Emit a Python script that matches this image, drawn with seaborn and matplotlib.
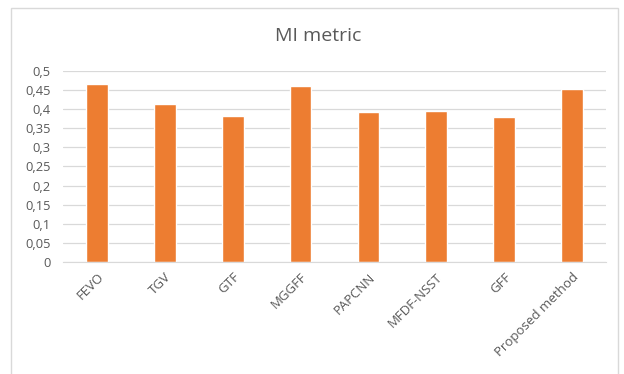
import matplotlib
matplotlib.use("Agg")
import matplotlib.pyplot as plt
import seaborn as sns
import pandas as pd
from matplotlib.patches import Rectangle
from matplotlib.ticker import FuncFormatter

methods = ["FEVO", "TGV", "GTF", "MGGFF", "PAPCNN", "MFDF-NSST", "GFF", "Proposed method"]
mi_values = [0.465, 0.412, 0.381, 0.459, 0.392, 0.395, 0.378, 0.451]
y_ticks = [0, 0.05, 0.1, 0.15, 0.2, 0.25, 0.3, 0.35, 0.4, 0.45, 0.5]

df = pd.DataFrame({"method": methods, "MI": mi_values})

sns.set_style("white")
plt.rcParams["font.family"] = ["Open Sans", "DejaVu Sans"]
text_col = "#595959"

fig = plt.figure(figsize=(6.24, 3.74), dpi=100)
ax = fig.add_axes([0.101, 0.299, 0.870, 0.512])

sns.barplot(data=df, x="method", y="MI", color="#ED7D31", saturation=1, width=0.32, ax=ax)

ax.set_ylim(0, 0.5)
ax.set_yticks(y_ticks)
ax.yaxis.set_major_formatter(FuncFormatter(lambda v, p: ("%g" % v).replace(".", ",")))
ax.grid(axis="y", color="#d9d9d9", linewidth=0.9)
ax.set_axisbelow(True)
for s in ["top", "right", "left"]:
    ax.spines[s].set_visible(False)
ax.spines["bottom"].set_color("#d9d9d9")
ax.tick_params(axis="y", length=0, pad=9, labelsize=9.3, labelcolor=text_col)
ax.tick_params(axis="x", length=0, pad=6, labelsize=9.5, labelcolor=text_col)
plt.setp(ax.get_xticklabels(), rotation=45, ha="right", rotation_mode="anchor")
ax.set_xlabel("")
ax.set_ylabel("")

fig.text(0.51, 0.903, "MI metric", ha="center", va="center", fontsize=14, color=text_col)

fig.patches.append(Rectangle((11 / 624, -0.01), 607 / 624, 1 - 8 / 374 + 0.01, transform=fig.transFigure,
                             fill=False, edgecolor="#d9d9d9", linewidth=1))

fig.savefig("out.png", dpi=100)
